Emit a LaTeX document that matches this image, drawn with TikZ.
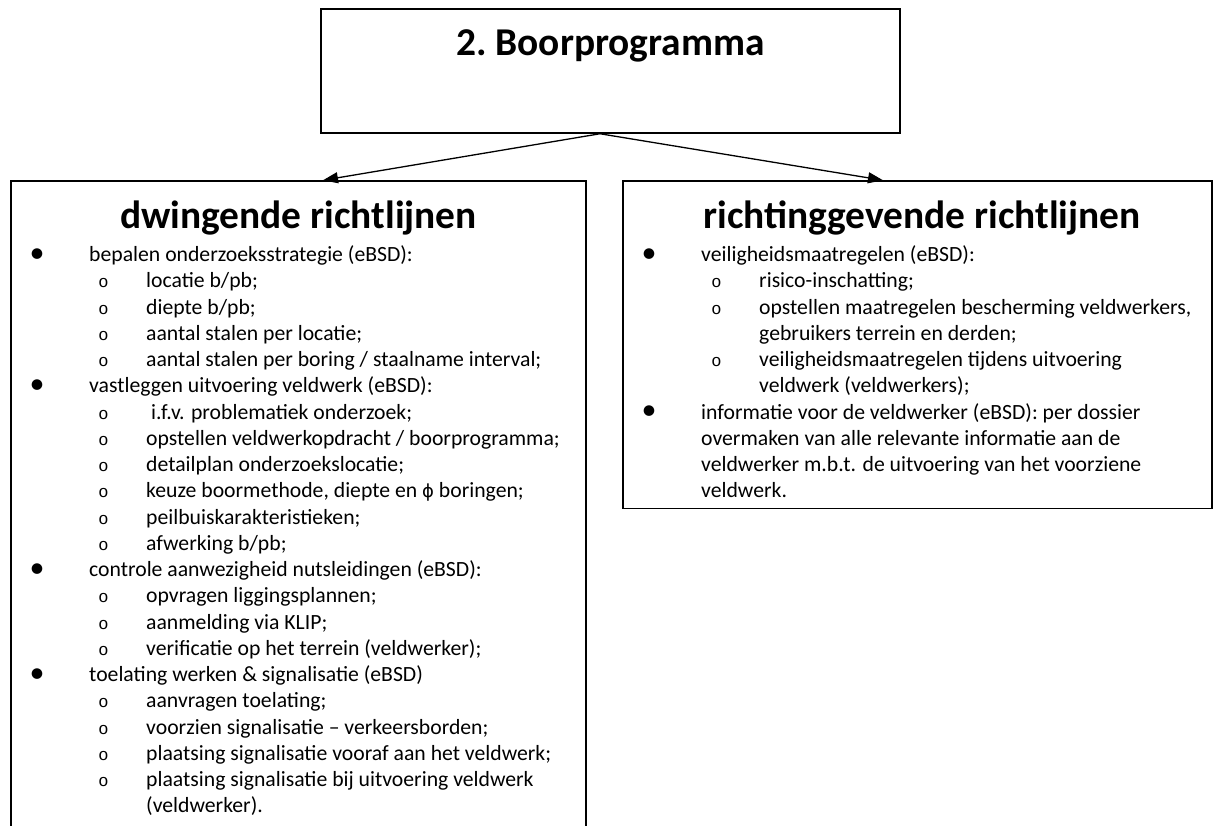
\documentclass[tikz,border=0pt]{standalone}
\usepackage{fontspec}
\setmainfont{Carlito}
\newfontfamily\monofnt{Liberation Mono}
\newfontfamily\dvfnt{DejaVu Sans}
\usetikzlibrary{arrows.meta}
\newcommand\ybase[1]{261.5+(#1-1)*26.25}
\newcommand\itemA[5]{\node[dotb] (#1b) at (#2,{\ybase{#4}-6}) {\textbullet}; \node[txt] (#1) at (#3,{\ybase{#4}}) {#5};}
\newcommand\itemB[5]{\node[ring] (#1b) at (#2,{\ybase{#4}}) {o}; \node[txt] (#1) at (#3,{\ybase{#4}}) {#5};}
\newcommand\itemC[4]{\node[txt] (#1) at (#2,{\ybase{#3}}) {#4};}
\begin{document}
\begin{tikzpicture}[x=1pt,y=-1pt,
  boxnode/.style={draw, line width=1.5pt, inner sep=0pt},
  ttl/.style={anchor=base, inner sep=0pt, font=\fontsize{39.4}{40}\selectfont\bfseries},
  txt/.style={anchor=base west, inner sep=0pt, font=\fontsize{21.7}{26}\selectfont},
  dotb/.style={anchor=center, inner sep=0pt, font=\fontsize{30}{30}\selectfont},
  ring/.style={anchor=base, inner sep=0pt, font=\monofnt\fontsize{17}{17}\selectfont},
  conn/.style={line width=1.3pt, -{Triangle[length=15pt,width=11pt]}}]
\useasboundingbox (0,0) rectangle (1213,825);
\fill[white] (0,0) rectangle (1213,825);

% boxes
\node[boxnode, minimum width=579pt, minimum height=124pt] (top) at (610.5,71) {};
\node[boxnode, minimum width=575pt, minimum height=664pt] (lbox) at (298.5,513) {};
\node[boxnode, minimum width=589pt, minimum height=327.5pt] (rbox) at (917.5,344.75) {};

% titles
\node[ttl] (toptitle) at (610.5,55) {2.\ Boorprogramma};
\node[ttl] (ltitle) at (298.5,228) {dwingende richtlijnen};
\node[ttl] (rtitle) at (922,228) {richtinggevende richtlijnen};

% connectors
\draw[conn] ([xshift=-10.5pt]top.south) -- ([xshift=24.5pt]lbox.north);
\draw[conn] ([xshift=-10.5pt]top.south) -- ([xshift=-34.5pt]rbox.north);

% left list
\itemA{l1}{37}{89}{1}{bepalen onderzoeksstrategie (eBSD):}
\itemB{l2}{103.5}{146}{2}{locatie b/pb;}
\itemB{l3}{103.5}{146}{3}{diepte b/pb;}
\itemB{l4}{103.5}{146}{4}{aantal stalen per locatie;}
\itemB{l5}{103.5}{146}{5}{aantal stalen per boring / staalname interval;}
\itemA{l6}{37}{89}{6}{vastleggen uitvoering veldwerk (eBSD):}
\itemB{l7}{103.5}{146}{7}{\hspace{5pt}i.f.v. problematiek onderzoek;}
\itemB{l8}{103.5}{146}{8}{opstellen veldwerkopdracht / boorprogramma;}
\itemB{l9}{103.5}{146}{9}{detailplan onderzoekslocatie;}
\itemB{l10}{103.5}{146}{10}{keuze boormethode, diepte en {\dvfnt\fontsize{18}{18}\selectfont ϕ} boringen;}
\itemB{l11}{103.5}{146}{11}{peilbuiskarakteristieken;}
\itemB{l12}{103.5}{146}{12}{afwerking b/pb;}
\itemA{l13}{37}{89}{13}{controle aanwezigheid nutsleidingen (eBSD):}
\itemB{l14}{103.5}{146}{14}{opvragen liggingsplannen;}
\itemB{l15}{103.5}{146}{15}{aanmelding via KLIP;}
\itemB{l16}{103.5}{146}{16}{verificatie op het terrein (veldwerker);}
\itemA{l17}{37}{89}{17}{toelating werken \& signalisatie (eBSD)}
\itemB{l18}{103.5}{146}{18}{aanvragen toelating;}
\itemB{l19}{103.5}{146}{19}{voorzien signalisatie – verkeersborden;}
\itemB{l20}{103.5}{146}{20}{plaatsing signalisatie vooraf aan het veldwerk;}
\itemB{l21}{103.5}{146}{21}{plaatsing signalisatie bij uitvoering veldwerk}
\itemC{l22}{146}{22}{(veldwerker).}

% right list
\itemA{r1}{649}{701}{1}{veiligheidsmaatregelen (eBSD):}
\itemB{r2}{716.5}{759}{2}{risico-inschatting;}
\itemB{r3}{716.5}{759}{3}{opstellen maatregelen bescherming veldwerkers,}
\itemC{r4}{759}{4}{gebruikers terrein en derden;}
\itemB{r5}{716.5}{759}{5}{veiligheidsmaatregelen tijdens uitvoering}
\itemC{r6}{759}{6}{veldwerk (veldwerkers);}
\itemA{r7}{649}{701}{7}{informatie voor de veldwerker (eBSD): per dossier}
\itemC{r8}{701}{8}{overmaken van alle relevante informatie aan de}
\itemC{r9}{701}{9}{veldwerker m.b.t. de uitvoering van het voorziene}
\itemC{r10}{701}{10}{veldwerk.}
\end{tikzpicture}
\end{document}
